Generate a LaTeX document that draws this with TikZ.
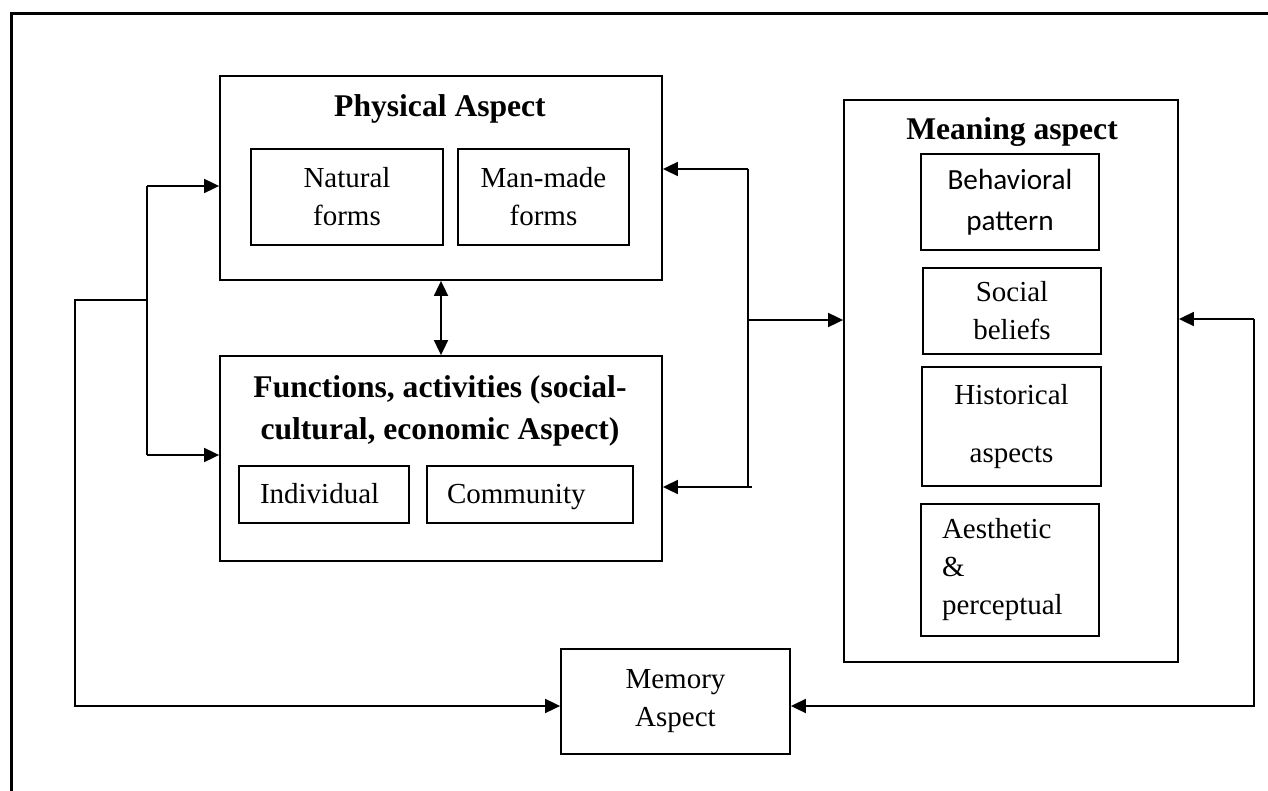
\documentclass[tikz,border=0pt]{standalone}
\usepackage{fontspec}
\setmainfont{Liberation Serif}
\newfontfamily\calib{Carlito}
\usetikzlibrary{arrows.meta}
\begin{document}
\begin{tikzpicture}[x=0.5pt,y=-0.5pt,
  box/.style={draw, line width=0.9pt, inner sep=0pt, align=center, font=\fontsize{14.5}{19}\selectfont},
  conn/.style={line width=0.9pt},
  tip/.style={},
  arr/.style={conn, -{Triangle[length=7.5pt,width=7pt]}},
  darr/.style={conn, {Triangle[length=7.5pt,width=7pt]}-{Triangle[length=7.5pt,width=7pt]}},
  ttl/.style={font=\bfseries\fontsize{15.8}{21}\selectfont, align=center, inner sep=0pt}]
\useasboundingbox (0,0) rectangle (1268,791);
\draw[line width=1.5pt] (11,830) -- (11,14) -- (1300,14);

% physical aspect
\node[box, minimum width=221pt, minimum height=102pt] (phys) at (441,178) {};
\node[ttl, anchor=base] (physT) at (440,117) {Physical Aspect};
\node[box, minimum width=96pt, minimum height=48pt] (nat) at (347,197) {Natural\\forms};
\node[box, minimum width=85.5pt, minimum height=48pt] (man) at (543.5,197) {Man-made\\forms};

% functions
\node[box, minimum width=221pt, minimum height=102.5pt] (func) at (441,458.5) {};
\node[ttl, anchor=base] (funcT) at (440,439) {Functions, activities (social-\\cultural, economic Aspect)};
\node[box, align=left, text width=64pt, text height=11pt, text depth=2.5pt, inner xsep=10.5pt, minimum height=28.5pt] (ind) at (324,494.5) {Individual};
\node[box, align=left, text width=83pt, text height=11pt, text depth=2.5pt, inner xsep=10pt, minimum height=28.5pt] (com) at (530,494.5) {Community};

% meaning
\node[box, minimum width=167pt, minimum height=281pt] (mean) at (1011,381) {};
\node[ttl, anchor=base] (meanT) at (1012,140) {Meaning aspect};
\node[box, font=\calib\fontsize{14.6}{20.5}\selectfont, minimum width=89pt, minimum height=48pt] (beh) at (1010,202) {Behavioral\\pattern};
\node[box, minimum width=89pt, minimum height=43pt] (soc) at (1012,311) {Social\\beliefs};
\node[box, font=\fontsize{14.5}{29}\selectfont, minimum width=89.5pt, minimum height=59.5pt] (his) at (1011.5,426.5) {Historical\\aspects};
\node[box, align=left, text width=68pt, inner xsep=10.5pt, minimum height=66pt] (aes) at (1010,570) {Aesthetic\\\&\\perceptual};

% memory
\node[box, minimum width=114.5pt, minimum height=52.5pt] (mem) at (675.5,701.5) {Memory\\Aspect};

% left connectors
\coordinate (L1) at (147,186);
\coordinate (L2) at (147,455);
\coordinate (L0) at (147,300);
\coordinate (LL) at (75,300);
\coordinate (LB) at (75,706);
\draw[conn] (L1) -- (L2);
\draw[arr] (L1) -- (L1 -| phys.west);
\draw[arr] (L2) -- (L2 -| func.west);
\draw[arr] (L0) -- (LL) -- (LB) -- (LB -| mem.west);

% middle
\draw[darr] (phys.south) -- (func.north);

% right middle
\coordinate (R1) at (748,169);
\coordinate (R2) at (748,487);
\coordinate (R2e) at (752,487);
\coordinate (R3) at (748,320);
\draw[conn] (R1) -- (R2);
\draw[arr] (R1) -- (R1 -| phys.east);
\draw[arr] (R2e) -- (R2e -| func.east);
\draw[arr] (R3) -- (R3 -| mean.west);

% right loop
\coordinate (Q1) at (1254,319);
\coordinate (Q2) at (1254,706);
\draw[arr] (Q1) -- (Q1 -| mean.east);
\draw[arr] (Q1) -- (Q2) -- (Q2 -| mem.east);
\end{tikzpicture}
\end{document}
